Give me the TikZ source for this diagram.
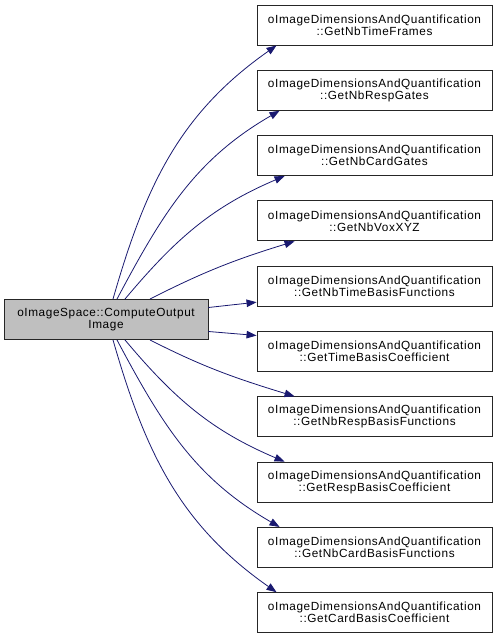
\documentclass[tikz,border=0pt]{standalone}
\usepackage{fontspec}
\newfontfamily\dxfont{Liberation Sans}[LetterSpace=5]
\usetikzlibrary{arrows.meta}
\definecolor{callblue}{HTML}{191970}
\definecolor{curgray}{HTML}{BFBFBF}
\begin{document}
\begin{tikzpicture}[x=1pt,y=1pt,
    fn/.style={draw=black!85,line width=0.9pt,inner sep=0pt,minimum height=40pt,
      align=center,font=\dxfont\fontsize{11.8}{12}\selectfont},
    callee/.style={fn,minimum width=235pt},
    caller/.style={fn,minimum width=204pt,fill=curgray},
    call/.style={callblue,line width=0.8pt,-{Triangle[length=10pt,width=7.5pt]}}]
    \useasboundingbox (0,0) rectangle (499,639);

    \node[caller] (cop) at (106,319.5) {oImageSpace::ComputeOutput\\Image};

    \node[callee] (gtf)  at (374.5,614.0) {oImageDimensionsAndQuantification\\::GetNbTimeFrames};
    \node[callee] (grg)  at (374.5,548.7) {oImageDimensionsAndQuantification\\::GetNbRespGates};
    \node[callee] (gcg)  at (374.5,483.4) {oImageDimensionsAndQuantification\\::GetNbCardGates};
    \node[callee] (gvx)  at (374.5,418.1) {oImageDimensionsAndQuantification\\::GetNbVoxXYZ};
    \node[callee] (gtbf) at (374.5,352.8) {oImageDimensionsAndQuantification\\::GetNbTimeBasisFunctions};
    \node[callee] (gtbc) at (374.5,287.5) {oImageDimensionsAndQuantification\\::GetTimeBasisCoefficient};
    \node[callee] (grbf) at (374.5,222.2) {oImageDimensionsAndQuantification\\::GetNbRespBasisFunctions};
    \node[callee] (grbc) at (374.5,156.9) {oImageDimensionsAndQuantification\\::GetRespBasisCoefficient};
    \node[callee] (gcbf) at (374.5,91.6)  {oImageDimensionsAndQuantification\\::GetNbCardBasisFunctions};
    \node[callee] (gcbc) at (374.5,26.3)  {oImageDimensionsAndQuantification\\::GetCardBasisCoefficient};

    % calls above the caller
    \draw[call] ([xshift=7pt]cop.north)  to[out=74,in=215] ([xshift=20pt]gtf.south west);
    \draw[call] ([xshift=11pt]cop.north) to[out=62,in=210] ([xshift=23pt]grg.south west);
    \draw[call] ([xshift=19pt]cop.north) to[out=50,in=203] ([xshift=28pt]gcg.south west);
    \draw[call] ([xshift=44pt]cop.north) to[out=27,in=197] ([xshift=38pt]gvx.south west);
    \draw[call] ([yshift=12pt]cop.east) -- ([yshift=-16pt]gtbf.west);
    % calls below the caller
    \draw[call] ([yshift=-12pt]cop.east) -- ([yshift=16pt]gtbc.west);
    \draw[call] ([xshift=44pt]cop.south) to[out=-27,in=163] ([xshift=38pt]grbf.north west);
    \draw[call] ([xshift=19pt]cop.south) to[out=-50,in=157] ([xshift=28pt]grbc.north west);
    \draw[call] ([xshift=11pt]cop.south) to[out=-62,in=150] ([xshift=23pt]gcbf.north west);
    \draw[call] ([xshift=7pt]cop.south)  to[out=-74,in=145] ([xshift=20pt]gcbc.north west);
\end{tikzpicture}
\end{document}
